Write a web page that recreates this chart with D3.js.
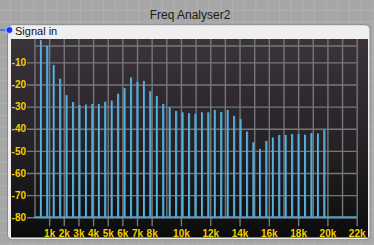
<!DOCTYPE html>
<html><head><meta charset="utf-8">
<script src="https://cdn.jsdelivr.net/npm/d3@7"></script>
<style>
html,body{margin:0;padding:0;background:#a7a7a7;}
svg{display:block;}
</style></head>
<body>
<svg id="chart" width="374" height="245"></svg>
<script>
// ---- data ----
const title = "Freq Analyser2";
const seriesName = "Signal in";
const fundamentalHz = 440;
const harmonicLevels = [0, -2.6, -11.2, -17.4, -24.8, -27.9, -29.3, -29.1, -28.8, -28.8,
  -27.8, -27.3, -24.2, -21.7, -16.8, -18.9, -18.4, -23.1, -25.2, -28.8,
  -30.3, -32, -32.6, -33, -33.3, -32.6, -32.6, -31.5, -32.4, -31.5,
  -34.2, -35.6, -41.3, -46.1, -49.1, -45.5, -44, -42.8, -42.8, -42.4,
  -42.4, -42.7, -41.9, -42.2, -40.6];
const xTickValues = [1000,2000,3000,4000,5000,6000,7000,8000,10000,12000,14000,16000,18000,20000,22000];
const xTickLabels = ["1k","2k","3k","4k","5k","6k","7k","8k","10k","12k","14k","16k","18k","20k","22k"];
const xGridValues = d3.range(0, 22001, 1000);
const yTickValues = [-10,-20,-30,-40,-50,-60,-70,-80];
const yTickLabels = ["-10","-20","-30","-40","-50","-60","-70","-80"];
const yRefLine = -2.6;
const floorLevel = -80;

// ---- layout ----
const svg = d3.select("#chart");
const W = 374, H = 245;
const plotL = 34.5, plotR = 356.7, plotT = 40.2, plotB = 217.3;
const x = d3.scaleLinear().domain([0, 22000]).range([plotL, plotR]);
const y = d3.scaleLinear().domain([0, -80]).range([plotT, plotB]);

const defs = svg.append("defs");
const pat = defs.append("pattern").attr("id","bgp").attr("width",11.7).attr("height",11.7)
  .attr("patternUnits","userSpaceOnUse").attr("x",-2).attr("y",-2);
pat.append("rect").attr("width",11.7).attr("height",11.7).attr("fill","#a6a6a6");
pat.append("path").attr("d","M0,0.5H11.7M0.5,0V11.7").attr("stroke","#b1b1b1").attr("stroke-width",1);
const grad = defs.append("linearGradient").attr("id","plotg").attr("x1",0).attr("x2",0).attr("y1",0).attr("y2",1);
grad.append("stop").attr("offset","0").attr("stop-color","#3b343b");
grad.append("stop").attr("offset","0.55").attr("stop-color","#252125");
grad.append("stop").attr("offset","1").attr("stop-color","#0c0c0c");
const clip = defs.append("clipPath").attr("id","pclip");
clip.append("rect").attr("x",11).attr("y",39).attr("width",357).attr("height",178.3);

svg.append("rect").attr("width",W).attr("height",H).attr("fill","url(#bgp)");

svg.append("text").attr("x",190).attr("y",19).attr("text-anchor","middle")
  .attr("font-family","Liberation Sans, Arial, sans-serif").attr("font-size",12)
  .attr("fill","#1a1a1a").text(title);

// panel
svg.append("rect").attr("x",7.5).attr("y",24.7).attr("width",362.5).attr("height",215)
  .attr("rx",5).attr("fill","#efefef").attr("stroke","#8a8a8a").attr("stroke-width",1);
// plot background
svg.append("rect").attr("x",11).attr("y",39).attr("width",357).attr("height",198.5)
  .attr("fill","url(#plotg)");

// port connector
svg.append("line").attr("x1",0).attr("x2",8).attr("y1",30).attr("y2",30)
  .attr("stroke","#1040ff").attr("stroke-width",1);
svg.append("circle").attr("cx",9.3).attr("cy",30).attr("r",3.4).attr("fill","#0a3cff")
  .attr("stroke","#ffffff").attr("stroke-width",0.6);
svg.append("text").attr("x",15).attr("y",34.5)
  .attr("font-family","Liberation Sans, Arial, sans-serif").attr("font-size",11)
  .attr("fill","#111").text(seriesName);

const gridColor = "#777777";
const labelColor = "#f2d000";

// vertical gridlines
const gx = svg.append("g").attr("transform",`translate(0,${plotB})`)
  .call(d3.axisBottom(x).tickValues(xGridValues).tickSize(-(plotB-39)).tickFormat(""));
gx.select(".domain").remove();
gx.selectAll("line").attr("stroke",gridColor).attr("stroke-width",1.4);

// x axis ticks & labels
const ax = svg.append("g").attr("transform",`translate(0,${plotB})`)
  .call(d3.axisBottom(x).tickValues(xTickValues).tickSize(9).tickPadding(3.5)
    .tickFormat((d,i)=>xTickLabels[i]));
ax.select(".domain").remove();
ax.selectAll("line").attr("stroke",gridColor).attr("stroke-width",1.4);
ax.selectAll("text").attr("fill",labelColor).attr("font-size",10).attr("font-weight","bold")
  .attr("font-family","Liberation Sans, Arial, sans-serif");

// horizontal gridlines with labels
const ay = svg.append("g").attr("transform","translate(27,0)")
  .call(d3.axisLeft(y).tickValues(yTickValues).tickSize(-(plotR-27)).tickPadding(1)
    .tickFormat((d,i)=>yTickLabels[i]));
ay.select(".domain").remove();
ay.selectAll("line").attr("stroke",gridColor).attr("stroke-width",1.4);
ay.selectAll("text").attr("fill",labelColor).attr("font-size",10).attr("font-weight","bold")
  .attr("font-family","Liberation Sans, Arial, sans-serif");

svg.append("line").attr("x1",plotL).attr("x2",plotR).attr("y1",y(yRefLine)).attr("y2",y(yRefLine))
  .attr("stroke",gridColor).attr("stroke-width",1.4);

// bars
const bars = harmonicLevels.map((v,i)=>({f:fundamentalHz*(i+1), v}));
const gb = svg.append("g").attr("clip-path","url(#pclip)");
gb.selectAll("rect.bar").data(bars).enter().append("rect").attr("class","bar")
  .attr("x",d=>x(d.f)-1).attr("width",2)
  .attr("y",d=>y(d.v)).attr("height",d=>y(floorLevel)-y(d.v))
  .attr("fill","#4a9dc8");
gb.selectAll("rect.hl").data(bars).enter().append("rect").attr("class","hl")
  .attr("x",d=>x(d.f)-1).attr("width",1)
  .attr("y",d=>y(d.v)).attr("height",d=>y(floorLevel)-y(d.v))
  .attr("fill","#5cb6e2");

// floor line
svg.append("line").attr("x1",plotL).attr("x2",plotR).attr("y1",y(floorLevel)).attr("y2",y(floorLevel))
  .attr("stroke","#5a9fc4").attr("stroke-width",2);
</script>
</body></html>
